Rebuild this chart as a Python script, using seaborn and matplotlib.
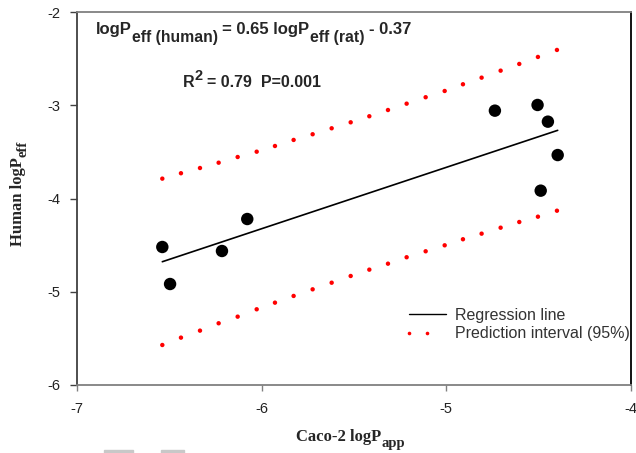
import matplotlib
matplotlib.use("Agg")
import matplotlib.pyplot as plt
from matplotlib.lines import Line2D
from matplotlib.patches import Rectangle
import seaborn as sns
import pandas as pd

# ---- data ----
caco2_x = [-6.538, -6.496, -6.215, -6.078, -4.737, -4.506, -4.450, -4.397, -4.489]
human_y = [-4.520, -4.917, -4.563, -4.220, -3.058, -2.997, -3.176, -3.534, -3.916]

reg_x = [-6.538, -4.397]
reg_y = [-4.678, -3.269]

band_x = [-6.538, -6.437, -6.334, -6.233, -6.130, -6.027, -5.928, -5.827, -5.724, -5.621, -5.518,
          -5.417, -5.316, -5.215, -5.112, -5.009, -4.910, -4.809, -4.706, -4.605, -4.504, -4.401]
band_upper = [-3.787, -3.729, -3.673, -3.616, -3.555, -3.498, -3.437, -3.372, -3.311, -3.247, -3.183,
              -3.118, -3.051, -2.983, -2.914, -2.847, -2.775, -2.704, -2.629, -2.557, -2.482, -2.407]
band_lower = [-5.571, -5.492, -5.417, -5.338, -5.267, -5.188, -5.117, -5.045, -4.974, -4.903, -4.831,
              -4.763, -4.699, -4.630, -4.566, -4.502, -4.437, -4.377, -4.313, -4.252, -4.195, -4.131]

x_ticks = [-7, -6, -5, -4]
y_ticks = [-6, -5, -4, -3, -2]
legend_labels = ["Regression line", "Prediction interval (95%)"]

sns.set_style("white")
plt.rcParams['font.family'] = ['Liberation Sans', 'DejaVu Sans']

W, H = 636, 453
fig = plt.figure(figsize=(W / 100, H / 100), dpi=100)
ax = fig.add_axes([77 / W, 1 - 385 / H, 554 / W, 373 / H])

pts = pd.DataFrame({"x": caco2_x, "y": human_y})
reg = pd.DataFrame({"x": reg_x, "y": reg_y})
band = pd.DataFrame({"x": band_x + band_x, "y": band_upper + band_lower})

sns.scatterplot(data=band, x="x", y="y", ax=ax, color="#ff0000", s=10, edgecolor="none", legend=False)
sns.lineplot(data=reg, x="x", y="y", ax=ax, color="black", lw=1.2, legend=False)
sns.scatterplot(data=pts, x="x", y="y", ax=ax, color="black", s=80, edgecolor="none", legend=False, zorder=5)

ax.set_xlim(-7, -4)
ax.set_ylim(-6, -2)
ax.set_xticks(x_ticks)
ax.set_yticks(y_ticks)
ax.set_xticklabels([str(t) for t in x_ticks])
ax.set_yticklabels([str(t) for t in y_ticks])
ax.set_xlabel("")
ax.set_ylabel("")

ax.tick_params(axis='x', direction='out', length=4, width=1, color='#808080', pad=8,
               labelsize=10.5, labelcolor='#222222', bottom=True)
ax.tick_params(axis='y', direction='out', length=5, width=1, color='#404040', pad=7,
               labelsize=10.5, labelcolor='#222222', left=True)

for side, col in [("top", "#808080"), ("bottom", "#808080"), ("left", "#404040"), ("right", "black")]:
    ax.spines[side].set_visible(True)
    ax.spines[side].set_color(col)
    ax.spines[side].set_linewidth(1.3)


def chain(x_px, y_px, pieces, family, rotation=0):
    """Draw consecutive text pieces; each piece = (text, size, dx_pt, dy_pt) relative to the previous one."""
    last = None
    for text, size, dx, dy in pieces:
        kw = dict(fontsize=size, fontweight='bold', family=family, rotation=rotation)
        if last is None:
            if rotation == 0:
                last = fig.text(x_px / W, 1 - y_px / H, text, ha='left', va='baseline', **kw)
            else:
                last = fig.text(x_px / W, 1 - y_px / H, text, ha='right', va='bottom', **kw)
        elif rotation == 0:
            last = ax.annotate(text, xy=(1, 0), xycoords=last, xytext=(dx, dy),
                               textcoords='offset points', ha='left', va='bottom',
                               annotation_clip=False, **kw)
        else:
            last = ax.annotate(text, xy=(1, 1), xycoords=last, xytext=(-dy, dx),
                               textcoords='offset points', ha='right', va='bottom',
                               annotation_clip=False, **kw)
    return last


sans = ['Liberation Sans', 'DejaVu Sans']
serif = ['Liberation Serif', 'DejaVu Serif']

# equation
chain(96, 34, [("logP", 12, 0, 0),
               ("eff (human)", 11.3, 0, -5.5),
               ("= 0.65 logP", 12, 3.3, 5.5),
               ("eff (rat)", 11.3, 0, -5.5),
               ("- 0.37", 12, 3.3, 5.5)], sans)
# R^2 line
chain(183, 87, [("R", 11.5, 0, 0),
                ("2", 10.5, 0, 5.0),
                ("= 0.79  P=0.001", 11.5, 3.2, -5.0)], sans)
# x label
chain(296, 441, [("Caco-2 logP", 12, 0, 0),
                 ("app", 10.5, 0, -3.5)], serif)
# y label (rotated)
chain(26, 246, [("Human logP", 12, 0, 0),
                ("eff", 10.5, 0, -2.5)], serif, rotation=90)


class HalfDotsHandler:
    """Legend handle: two dots over the first half of the handle box."""
    def legend_artist(self, legend, orig_handle, fontsize, handlebox):
        x0, y0 = handlebox.xdescent, handlebox.ydescent
        w, h = handlebox.width, handlebox.height
        yc = h / 2 - y0
        ln = Line2D([-x0, -x0 + w / 2], [yc, yc], lw=0, marker='o', markersize=2.6,
                    color='#ff0000', markeredgewidth=0, transform=handlebox.get_transform())
        handlebox.add_artist(ln)
        return ln


class FullLineHandler:
    def legend_artist(self, legend, orig_handle, fontsize, handlebox):
        x0, y0 = handlebox.xdescent, handlebox.ydescent
        w, h = handlebox.width, handlebox.height
        yc = h / 2 - y0
        ln = Line2D([-x0, -x0 + w], [yc, yc], lw=1.0, color='black',
                    transform=handlebox.get_transform())
        handlebox.add_artist(ln)
        return ln


reg_handle = Line2D([], [], color='black', lw=1.0)
dot_handle = Line2D([], [], color='#ff0000', lw=0, marker='o')
leg = ax.legend(handles=[reg_handle, dot_handle], labels=legend_labels,
                loc='upper left', bbox_to_anchor=((409 - 77) / 554, (385 - 308) / 373),
                frameon=False, fontsize=11.5, handlelength=2.3, handletextpad=0.55,
                labelspacing=0.2, borderaxespad=0, borderpad=0,
                handler_map={reg_handle: FullLineHandler(), dot_handle: HalfDotsHandler()})
for t in leg.get_texts():
    t.set_color('#333333')

fig.patches.append(Rectangle((104 / W, 0), 29 / W, 3 / H, transform=fig.transFigure,
                             color='#c8c8c8', zorder=0))
fig.patches.append(Rectangle((161 / W, 0), 23 / W, 3 / H, transform=fig.transFigure,
                             color='#c8c8c8', zorder=0))

fig.savefig("out.png", dpi=100)
